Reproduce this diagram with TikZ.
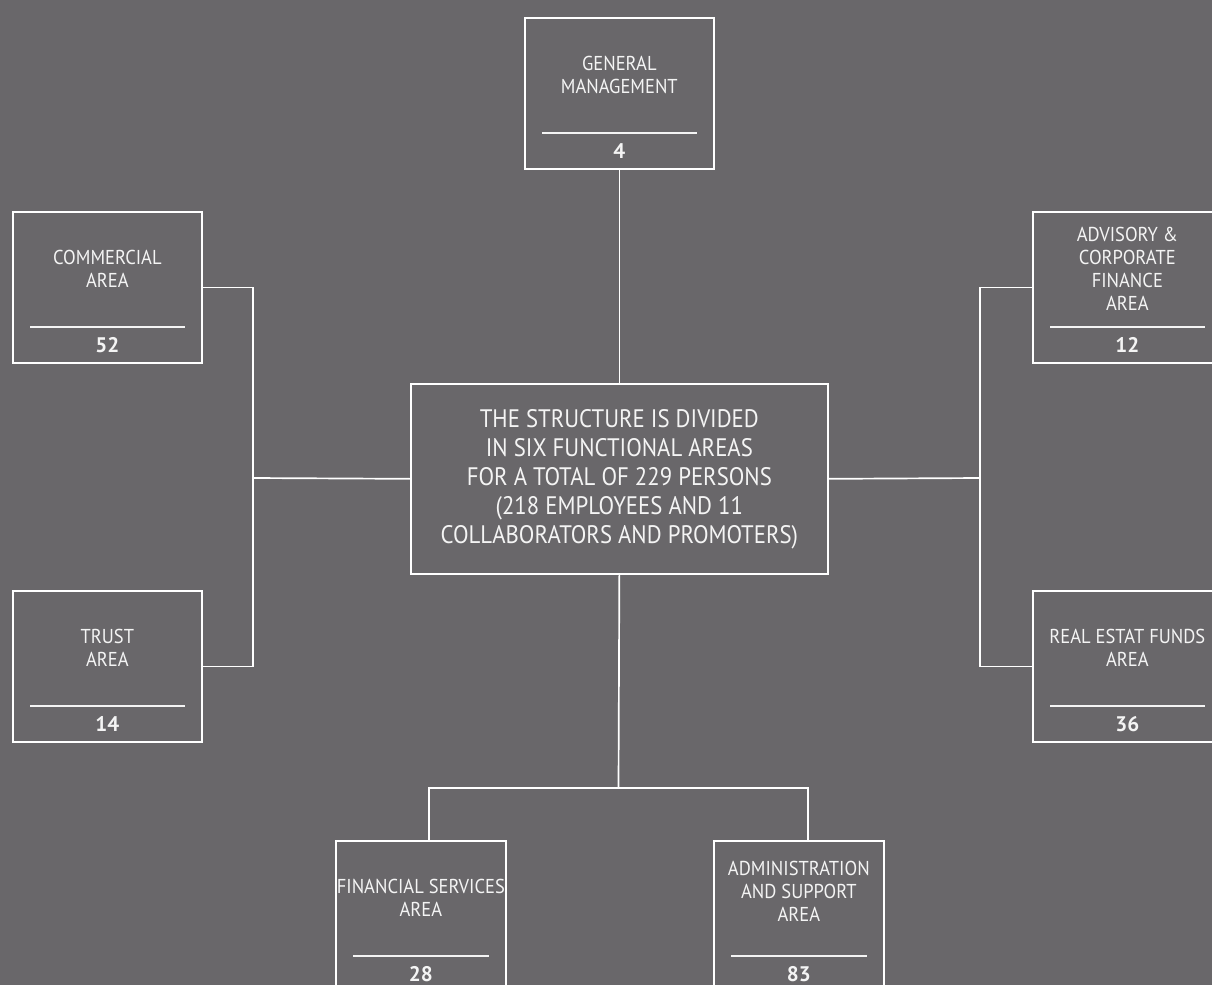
\documentclass[tikz,border=0pt]{standalone}
\usepackage{fontspec}
\setmainfont{PT Sans}
\newfontfamily\areafont[FakeStretch=0.92]{PT Sans}
\newfontfamily\centrefont[FakeStretch=0.9]{PT Sans}

\definecolor{slate}{RGB}{105,103,106}
\definecolor{ink}{RGB}{244,244,244}

\tikzset{
  unitbox/.style={draw=white, line width=1.2pt, minimum height=3.775cm, anchor=north west, inner sep=0pt},
  title/.style={text=ink, align=center, font=\areafont\fontsize{14.3}{16.3}\selectfont},
  count/.style={text=ink, font=\fontsize{15}{17}\selectfont\bfseries},
  rule/.style={draw=ink, line width=1.2pt},
  link/.style={draw=white, line width=1.2pt}
}

\begin{document}
\begin{tikzpicture}[x=0.025cm, y=-0.025cm]
% Background
\useasboundingbox (0,0) rectangle (1212,985);
\fill[slate] (0,0) rectangle (1212,985);
\clip (0,0) rectangle (1212,985);

% Central box
\node[unitbox, minimum width=417*0.025cm, minimum height=190*0.025cm, align=center,
      text=ink, font=\centrefont\fontsize{18}{20.6}\selectfont] (ctr) at (410,383)
  {THE STRUCTURE IS DIVIDED\\IN SIX FUNCTIONAL AREAS\\FOR A TOTAL OF 229 PERSONS\\(218 EMPLOYEES AND 11\\COLLABORATORS AND PROMOTERS)};

% Areas
\foreach \n/\x/\y/\w/\ty/\t/\k in {
    gen/524/17/189/58/{GENERAL\\MANAGEMENT}/4,
    com/12/211/189/58/{COMMERCIAL\\AREA}/52,
    tru/12/590/189/58/{TRUST\\AREA}/14,
    adv/1032/211/189/58/{ADVISORY \&\\CORPORATE\\FINANCE\\AREA}/12,
    rea/1032/590/189/58/{REAL ESTAT FUNDS\\AREA}/36,
    fin/335/840/170/58/{FINANCIAL SERVICES\\AREA}/28,
    adm/713/840/170/51/{ADMINISTRATION\\AND SUPPORT\\AREA}/83} {
    \node[unitbox, minimum width=\w*0.025cm] (\n) at (\x,\y) {};
    \node[title] (\n-t) at ([yshift=-\ty*0.025cm]\n.north) {\t};
    \draw[rule] ([xshift=0.45cm, yshift=0.925cm]\n.south west) -- ([xshift=-0.45cm, yshift=0.925cm]\n.south east);
    \node[count] (\n-k) at ([yshift=0.475cm]\n.south) {\k};
}

% Connectors
\coordinate (lbus) at (253,478);
\coordinate (rbus) at (980,478);
\coordinate (bbus) at (618.5,788);
\coordinate (finlink) at (429,788);
\coordinate (admlink) at (808,788);

\draw[link] (gen.south) -- (ctr.north);
\draw[link] (com.east) -| (lbus) |- (tru.east);
\draw[link] (ctr.west) -- (lbus);
\draw[link] (adv.west) -| (rbus) |- (rea.west);
\draw[link] (ctr.east) -- (rbus);
\draw[link] (ctr.south) -- (bbus);
\draw[link] (fin.north -| finlink) |- (admlink) -- (admlink |- adm.north);

\end{tikzpicture}
\end{document}
